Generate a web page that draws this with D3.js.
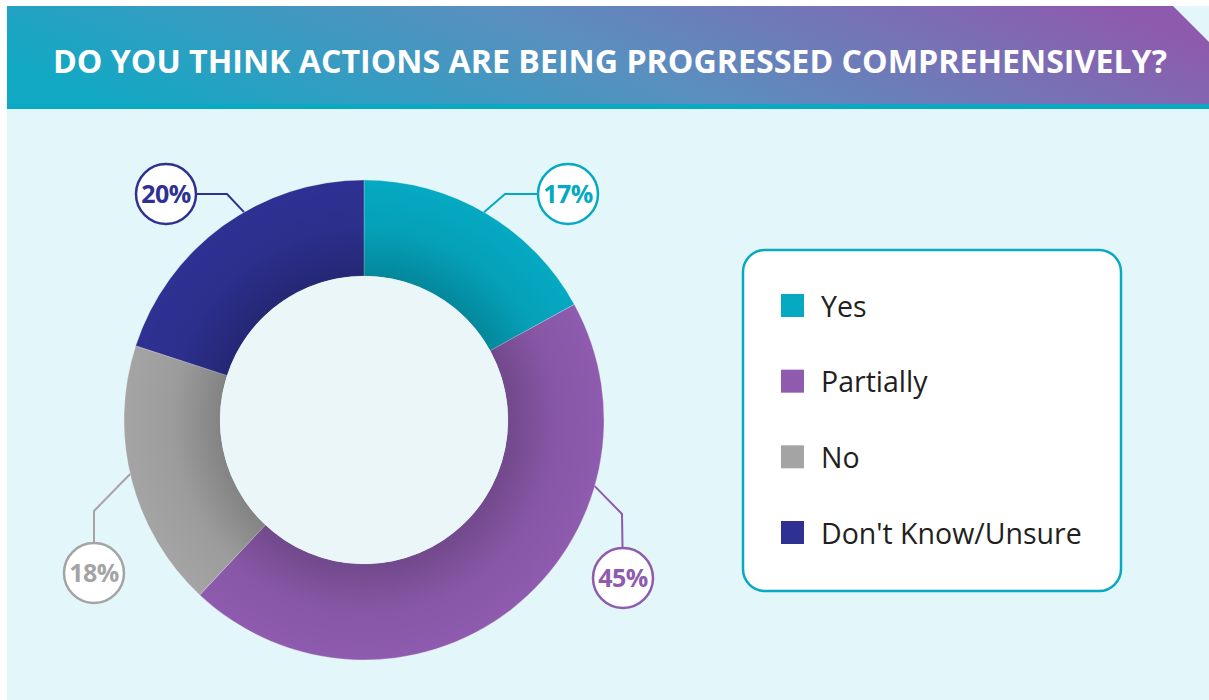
<!DOCTYPE html>
<html>
<head>
<meta charset="utf-8">
<script src="https://cdn.jsdelivr.net/npm/d3@7"></script>
<style>
  body { margin: 0; background: #ffffff; }
  svg { display: block; font-family: 'Open Sans', 'Noto Sans', sans-serif; }
</style>
</head>
<body>
<div id="chart"></div>
<script>
// chart data
const title = 'DO YOU THINK ACTIONS ARE BEING PROGRESSED COMPREHENSIVELY?';
const categories = ['Yes', 'Partially', 'No', "Don't Know/Unsure"];
const values = [17, 45, 18, 20];
const sliceColors = ['#05a9c2', '#8e5bae', '#a4a4a4', '#2e3192'];

// layout
const width = 1209;
const height = 700;
const cx = 364, cy = 420;
const outerRadius = 240;
const innerRadius = 144;

// where each leader line leaves the ring (degrees clockwise from top), its bend and the bubble
const labelLayout = [
    { angle: 30, elbow: [505, 194], bubble: [568, 194] },
    { angle: 106, elbow: [622, 514], bubble: [623, 578] },
    { angle: 257, elbow: [94, 511], bubble: [94, 573] },
    { angle: 330, elbow: [227, 194], bubble: [166, 194] }
];

const svg = d3.select('#chart').append('svg')
    .attr('width', width)
    .attr('height', height);

const defs = svg.append('defs');

const headerGrad = defs.append('linearGradient')
    .attr('id', 'headerGrad')
    .attr('x1', '0%').attr('y1', '60%')
    .attr('x2', '100%').attr('y2', '40%');
headerGrad.append('stop').attr('offset', '0%').attr('stop-color', '#11a9c4');
headerGrad.append('stop').attr('offset', '50%').attr('stop-color', '#5a8fbf');
headerGrad.append('stop').attr('offset', '100%').attr('stop-color', '#8e5aae');

// darker towards the hole of the ring (gradient lives in the donut group's coords)
const ringShade = defs.append('radialGradient')
    .attr('id', 'ringShade')
    .attr('gradientUnits', 'userSpaceOnUse')
    .attr('cx', 0).attr('cy', 0).attr('r', outerRadius);
ringShade.append('stop').attr('offset', innerRadius / outerRadius).attr('stop-color', '#000').attr('stop-opacity', 0.2);
ringShade.append('stop').attr('offset', 0.8).attr('stop-color', '#000').attr('stop-opacity', 0.05);
ringShade.append('stop').attr('offset', 1).attr('stop-color', '#000').attr('stop-opacity', 0);

// panel background
svg.append('rect')
    .attr('x', 7).attr('y', 6)
    .attr('width', width - 7).attr('height', height - 6)
    .attr('fill', '#e3f6f9');

// header banner with cut corner
svg.append('path')
    .attr('d', `M7,6 H1173 L${width},42 V104 H7 Z`)
    .attr('fill', 'url(#headerGrad)');

svg.append('rect')
    .attr('x', 7).attr('y', 104)
    .attr('width', width - 7).attr('height', 5)
    .attr('fill', '#09a9c2');

svg.append('text')
    .attr('x', 53).attr('y', 73)
    .attr('fill', '#ffffff')
    .attr('font-size', 33)
    .attr('font-weight', 700)
    .attr('textLength', 1114)
    .attr('lengthAdjust', 'spacingAndGlyphs')
    .text(title);

// donut
const pie = d3.pie().sort(null).value(d => d);
const arcs = pie(values);
const arc = d3.arc().innerRadius(innerRadius).outerRadius(outerRadius);

const donut = svg.append('g').attr('transform', `translate(${cx},${cy})`);

donut.selectAll('path.slice')
    .data(arcs)
    .join('path')
    .attr('class', 'slice')
    .attr('d', arc)
    .attr('fill', (d, i) => sliceColors[i])
    .attr('stroke', '#ffffff')
    .attr('stroke-opacity', 0.4)
    .attr('stroke-width', 0.6);

donut.append('path')
    .attr('d', arc({ startAngle: 0, endAngle: 2 * Math.PI }))
    .attr('fill', 'url(#ringShade)');

donut.append('circle')
    .attr('r', innerRadius)
    .attr('fill', '#eaf6f7');

// percentage bubbles
arcs.forEach((d, i) => {
    const layout = labelLayout[i];
    const start = d3.pointRadial(layout.angle * Math.PI / 180, outerRadius);
    const points = [[cx + start[0], cy + start[1]], layout.elbow, layout.bubble];

    svg.append('path')
        .attr('d', d3.line()(points))
        .attr('fill', 'none')
        .attr('stroke', sliceColors[i])
        .attr('stroke-width', 2);

    svg.append('circle')
        .attr('cx', layout.bubble[0]).attr('cy', layout.bubble[1])
        .attr('r', 30)
        .attr('fill', '#ffffff')
        .attr('stroke', sliceColors[i])
        .attr('stroke-width', 2.5);

    svg.append('text')
        .attr('x', layout.bubble[0]).attr('y', layout.bubble[1] + 9)
        .attr('text-anchor', 'middle')
        .attr('fill', sliceColors[i])
        .attr('font-size', 25)
        .attr('font-weight', 700)
        .attr('letter-spacing', -0.5)
        .text(d.data + '%');
});

// legend
const legend = svg.append('g');

legend.append('rect')
    .attr('x', 743).attr('y', 250)
    .attr('width', 378).attr('height', 341)
    .attr('rx', 22)
    .attr('fill', '#ffffff')
    .attr('stroke', '#0aa9c2')
    .attr('stroke-width', 2.5);

const legendY = d3.scalePoint()
    .domain(categories)
    .range([305.5, 532.5]);

const legendItems = legend.selectAll('g.item')
    .data(categories)
    .join('g')
    .attr('class', 'item')
    .attr('transform', d => `translate(0,${legendY(d)})`);

legendItems.append('rect')
    .attr('x', 781).attr('y', -11.5)
    .attr('width', 23).attr('height', 23)
    .attr('fill', (d, i) => sliceColors[i]);

legendItems.append('text')
    .attr('x', 821).attr('y', 11)
    .attr('fill', '#231f20')
    .attr('font-size', 28.5)
    .text(d => d);
</script>
</body>
</html>
